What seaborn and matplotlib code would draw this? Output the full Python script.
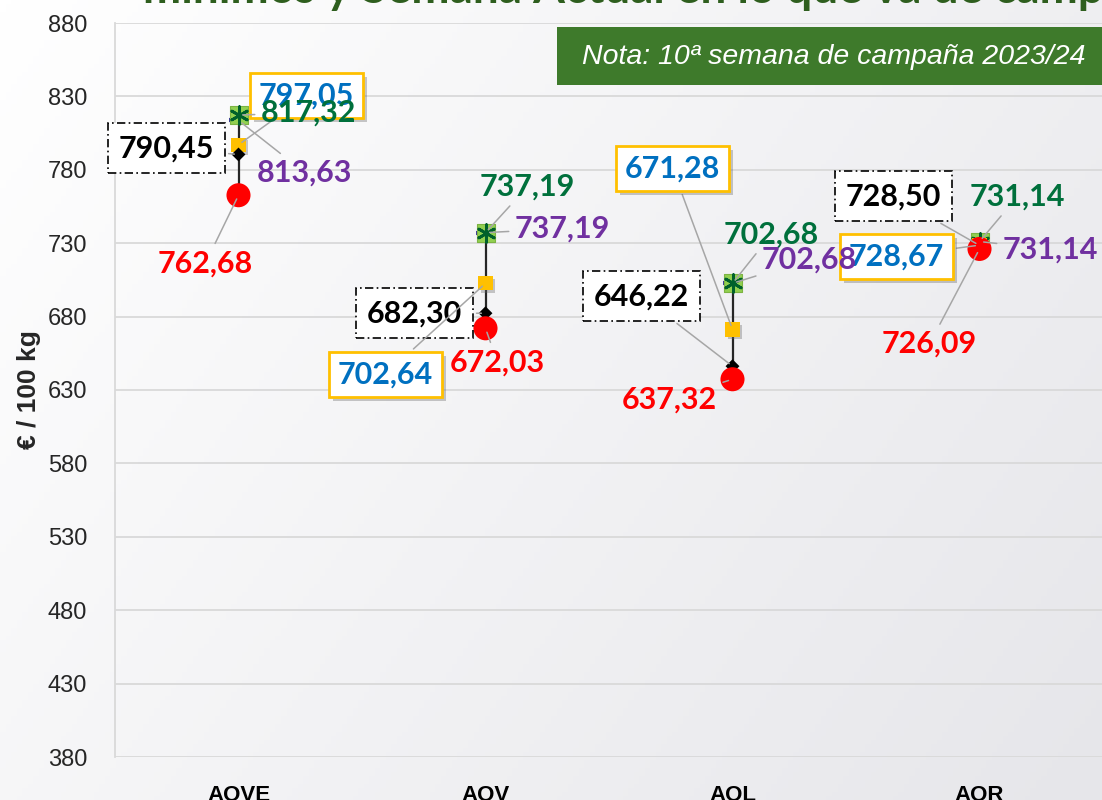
import numpy as np
import pandas as pd
import matplotlib
matplotlib.use("Agg")
import matplotlib.pyplot as plt
import matplotlib.patheffects as pe
from matplotlib.colors import LinearSegmentedColormap
from matplotlib.patches import Rectangle
import seaborn as sns

# Data
categories = ["AOVE", "AOV", "AOL", "AOR"]
minimo = [762.68, 672.03, 637.32, 726.09]        # red circle
actual = [790.45, 682.30, 646.22, 728.50]        # black diamond
media = [797.05, 702.64, 671.28, 728.67]         # yellow square
maximo = [817.32, 737.19, 702.68, 731.14]        # green square
maximo2 = [813.63, 737.19, 702.68, 731.14]       # purple dash
yticks = list(range(380, 881, 50))

title = "mínimos y Semana Actual en lo que va de campaña"
note = "Nota: 10ª semana de campaña 2023/24"

pos = np.arange(len(categories))

# label offsets in pixels (dx, dy) relative to each marker
off_min = [(-33, -68), (12, -34), (-63, -20), (-50, -95)]
off_act = [(-72, 6), (-71, 0), (-91, 70), (-86, 49)]
off_med = [(68, 49), (-100, -91), (-60, 161), (-83, -11)]
off_max = [(70, 2), (42, 46), (39, 49), (38, 45)]
off_max2 = [(66, -52), (77, 4), (77, 24), (71, -8)]

sns.set_theme(style="white")
plt.rcParams["font.family"] = ["Liberation Sans", "DejaVu Sans"]

fig = plt.figure(figsize=(11.02, 8), dpi=100)

# soft gradient background
bg = fig.add_axes([0, 0, 1, 1], zorder=-10)
gx, gy = np.meshgrid(np.linspace(0, 1, 200), np.linspace(0, 1, 200))
grad = 0.65 * gx + 0.35 * gy
cmap = LinearSegmentedColormap.from_list("bg", ["#ffffff", "#e6e6ea"])
bg.imshow(grad, cmap=cmap, aspect="auto", extent=[0, 1, 0, 1], origin="upper")
bg.axis("off")

ax = fig.add_axes([115 / 1102, 43 / 800, 988 / 1102, 734 / 800])
ax.set_facecolor("none")

# high-low line
lows = np.minimum.reduce([minimo, actual, media, maximo, maximo2])
highs = np.maximum.reduce([minimo, actual, media, maximo, maximo2])
ax.vlines(pos, lows, highs, color="#262626", lw=1.6, zorder=2)

shadow = [pe.SimplePatchShadow(offset=(2, -2), shadow_rgbFace=(0.4, 0.4, 0.4),
                               alpha=0.35), pe.Normal()]

sns.scatterplot(x=pos, y=maximo2, marker="_", s=210, color="#3d3d9a",
                linewidth=3, ax=ax, zorder=3)
sns.scatterplot(x=pos, y=maximo, marker="s", s=180, color="#92d050",
                edgecolor="#7cb342", linewidth=0.8, ax=ax, zorder=4)
sns.scatterplot(x=pos, y=maximo, marker=(6, 2, 0), s=160, color="#00602b",
                linewidth=2, ax=ax, zorder=5)
sns.scatterplot(x=pos, y=media, marker="s", s=105, color="#ffc000",
                edgecolor="none", ax=ax, zorder=6)
ax.collections[-1].set_path_effects(shadow)
sns.scatterplot(x=pos, y=actual, marker="D", s=50, color="black",
                edgecolor="none", ax=ax, zorder=7)
sns.scatterplot(x=pos, y=minimo, marker="o", s=300, color="#ff0000",
                edgecolor="none", ax=ax, zorder=8)

lab_font = dict(family=["Lato", "DejaVu Sans"], weight="bold", size=22)
leader = dict(arrowstyle="-", color="#a6a6a6", lw=1.1, shrinkA=2, shrinkB=3)


def fmt(v):
    return f"{v:.2f}".replace(".", ",")


def label(vals, offs, color, box=None, z=10, shade=False):
    for i, (v, (dx, dy)) in enumerate(zip(vals, offs)):
        t = ax.annotate(fmt(v), xy=(pos[i], v), xytext=(dx, dy),
                        textcoords="offset pixels", ha="center", va="center",
                        color=color, arrowprops=leader, zorder=z,
                        bbox=box, **lab_font)
        if shade:
            t.get_bbox_patch().set_path_effects(
                [pe.SimplePatchShadow(offset=(3, -3), alpha=0.3), pe.Normal()])


label(actual, off_act, "black",
      box=dict(boxstyle="square,pad=0.36", fc="white", ec="black",
               ls=(0, (5, 2, 1, 2)), lw=1.2), z=10)
label(media, off_med, "#0070c0",
      box=dict(boxstyle="square,pad=0.28", fc="white", ec="#ffc000", lw=2),
      z=11, shade=True)
label(maximo, off_max, "#00703c", z=12)
label(maximo2, off_max2, "#7030a0", z=12)
label(minimo, off_min, "#ff0000", z=12)

# axes styling
ax.set_xlim(-0.5, len(categories) - 0.5)
ax.set_ylim(380, 880)
ax.set_yticks(yticks)
ax.set_yticklabels([str(t) for t in yticks], fontsize=17, color="#262626")
ax.set_xticks(pos)
ax.set_xticklabels(categories, fontsize=16, fontweight="bold", color="black")
ax.tick_params(axis="y", length=0, pad=20)
ax.tick_params(axis="x", length=0, pad=20)
ax.grid(axis="y", color="#d9d9d9", lw=1.3)
ax.set_axisbelow(True)
for side in ["top", "right", "bottom"]:
    ax.spines[side].set_visible(False)
ax.spines["left"].set_color("#d9d9d9")
ax.spines["left"].set_linewidth(1.3)
ax.set_ylabel("€ / 100 kg", fontsize=19, fontweight="bold", labelpad=5)

# title (cut at top) and note box
fig.text(143 / 1102, 1 - 3 / 800, title, ha="left", va="baseline",
         color="#2e5e1e", fontsize=33, fontweight="bold",
         family=["Lato", "DejaVu Sans"])
fig.add_artist(Rectangle((557 / 1102, 1 - 85 / 800), 0.6, 58 / 800,
                         transform=fig.transFigure, fc="#3e7a2b", ec="none",
                         zorder=20))
fig.text(582 / 1102, 1 - 57 / 800, note, ha="left", va="center",
         color="white", fontsize=20.5, style="italic", zorder=21)

plt.savefig("out.png", dpi=100)
